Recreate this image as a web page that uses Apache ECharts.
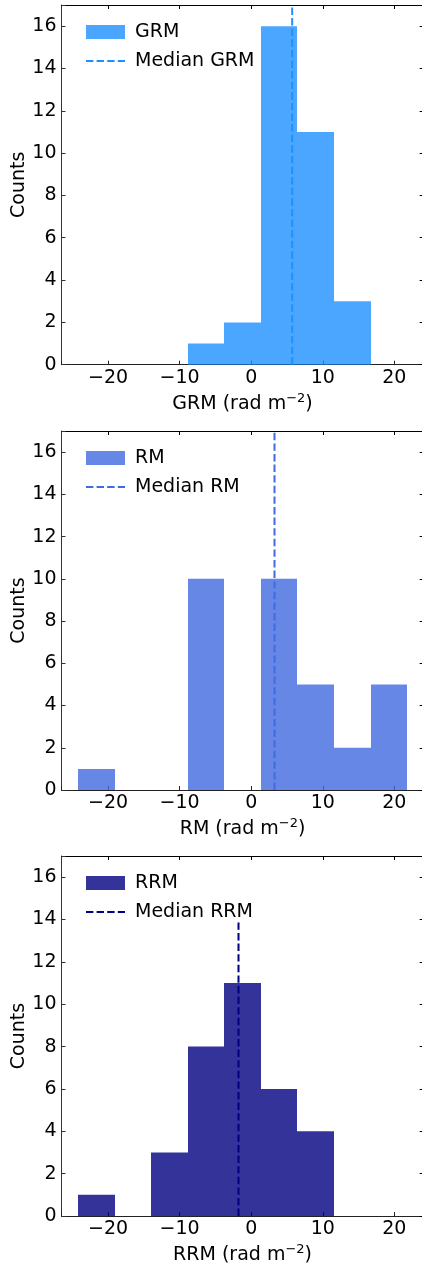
<!DOCTYPE html>
<html>
<head>
<meta charset="utf-8">
<script src="https://cdn.jsdelivr.net/npm/echarts@6/dist/echarts.min.js"></script>
<style>
html,body{margin:0;padding:0;background:#fff;}
#c{width:422px;height:1265px;}
</style>
</head>
<body>
<div id="c"></div>
<script>
// ---- data ----
const binEdges = [-24.2, -19.09, -13.98, -8.87, -3.76, 1.35, 6.46, 11.57, 16.68, 21.79];
const grmCounts = [0, 0, 0, 1, 2, 16, 11, 3, 0];
const rmCounts  = [1, 0, 0, 10, 0, 10, 5, 2, 5];
const rrmCounts = [1, 0, 3, 8, 11, 6, 4, 0, 0];
const panelNames = ['GRM', 'RM', 'RRM'];
const medians = [5.73, 3.26, -1.77];
const medianTops = [17, 17, 13.9];
const xRange = [-26.5, 24.09];
const yRange = [0, 17];

const countsList = [grmCounts, rmCounts, rrmCounts];
const fillColors = ['rgba(30,144,255,0.8)', 'rgba(65,105,225,0.8)', 'rgba(0,0,128,0.8)'];
const lineColors = ['#1e90ff', '#4169e1', '#000080'];
const panelTops = [5, 431, 856];
const panelHeights = [359.7, 359, 360];
const FONT = 'DejaVu Sans';
const FS = 19;

const grids = [], xAxes = [], yAxes = [], series = [], legends = [];

panelNames.forEach((nm, i) => {
  grids.push({left: 61.5, width: 362.1, top: panelTops[i], height: panelHeights[i], outerBoundsMode: 'none', containLabel: false});
  const xi = xAxes.length, yi = yAxes.length;
  xAxes.push({
    type: 'value', gridIndex: i, min: xRange[0], max: xRange[1], splitNumber: 5, position: 'bottom',
    axisLine: {show: true, onZero: false, lineStyle: {color: '#222', width: 1}},
    axisTick: {show: true, inside: true, length: 4, lineStyle: {color: '#222', width: 1}},
    axisLabel: {margin: 4, fontFamily: FONT, fontSize: FS, color: '#000',
      formatter: v => (Math.abs(v % 10) < 1e-9 ? String(v).replace('-', '\u2212') : '')},
    splitLine: {show: false},
    name: '{n|' + nm + ' (rad m}{sup|\u22122}{n|)}', nameLocation: 'middle', nameGap: 27,
    nameTextStyle: {fontFamily: FONT, fontSize: FS, color: '#000',
      rich: {
        n: {fontFamily: FONT, fontSize: FS, color: '#000', lineHeight: 22, verticalAlign: 'bottom'},
        sup: {fontFamily: FONT, fontSize: 13, color: '#000', lineHeight: 13, padding: [0, 0, 9, 0], verticalAlign: 'bottom'}
      }}
  });
  xAxes.push({
    type: 'value', gridIndex: i, min: xRange[0], max: xRange[1], splitNumber: 5, position: 'top',
    axisLine: {show: true, onZero: false, lineStyle: {color: '#000', width: 1}},
    axisTick: {show: true, inside: true, length: 4, lineStyle: {color: '#000', width: 1},
      customValues: [-20, -10, 0, 10, 20]},
    axisLabel: {show: false}, splitLine: {show: false}
  });
  yAxes.push({
    type: 'value', gridIndex: i, min: yRange[0], max: yRange[1], interval: 2, position: 'left',
    axisLine: {show: true, onZero: false, lineStyle: {color: '#333', width: 1}},
    axisTick: {show: true, inside: true, length: 4, lineStyle: {color: '#333', width: 1}},
    axisLabel: {margin: 5, fontFamily: FONT, fontSize: FS, color: '#000',
      formatter: v => (v % 2 === 0 && v <= 16 ? String(v) : '')},
    splitLine: {show: false},
    name: 'Counts', nameLocation: 'middle', nameGap: 33, nameRotate: 90, nameMoveOverlap: false,
    nameTextStyle: {fontFamily: FONT, fontSize: FS, color: '#000'}
  });
  yAxes.push({
    type: 'value', gridIndex: i, min: yRange[0], max: yRange[1], interval: 2, position: 'right',
    axisLine: {show: true, onZero: false, lineStyle: {color: '#000', width: 1}},
    axisTick: {show: true, inside: true, length: 4, lineStyle: {color: '#000', width: 1}},
    axisLabel: {show: false}, splitLine: {show: false}
  });

  const counts = countsList[i];
  const histData = counts.map((c, k) => [binEdges[k], binEdges[k + 1], c]);
  series.push({
    type: 'custom', name: nm, xAxisIndex: xi, yAxisIndex: yi, z: 2,
    itemStyle: {color: fillColors[i]},
    encode: {x: [0, 1], y: 2},
    data: histData,
    renderItem: (params, api) => {
      const p0 = api.coord([api.value(0), api.value(2)]);
      const p1 = api.coord([api.value(1), 0]);
      const x0 = Math.round(p0[0]), x1 = Math.round(p1[0]);
      return {type: 'rect', shape: {x: x0, y: p0[1], width: x1 - x0, height: p1[1] - p0[1]},
        style: {fill: fillColors[i]}};
    }
  });
  series.push({
    type: 'line', name: 'Median ' + nm, xAxisIndex: xi, yAxisIndex: yi, z: 3,
    symbol: 'none', showSymbol: false, silent: true,
    color: lineColors[i],
    lineStyle: {color: lineColors[i], width: 2, type: [7.4, 3.2]},
    data: [[medians[i], 0], [medians[i], medianTops[i]]]
  });
  legends.push({
    orient: 'vertical', left: 80, top: panelTops[i] + 12.5,
    itemWidth: 39, itemHeight: 14, itemGap: 10,
    selectedMode: false,
    textStyle: {fontFamily: FONT, fontSize: FS, color: '#000', lineHeight: 19, padding: [0, 0, 0, 5]},
    data: [
      {name: nm, icon: 'rect', itemStyle: {color: fillColors[i]}},
      {name: 'Median ' + nm, itemStyle: {opacity: 0}, lineStyle: {color: lineColors[i], width: 2, type: [7.4, 3.2], opacity: 1}}
    ]
  });
});

const chart = echarts.init(document.getElementById('c'), null, {renderer: 'canvas'});
chart.setOption({
  animation: false,
  backgroundColor: '#fff',
  grid: grids, xAxis: xAxes, yAxis: yAxes, series: series, legend: legends
});
</script>
</body>
</html>
